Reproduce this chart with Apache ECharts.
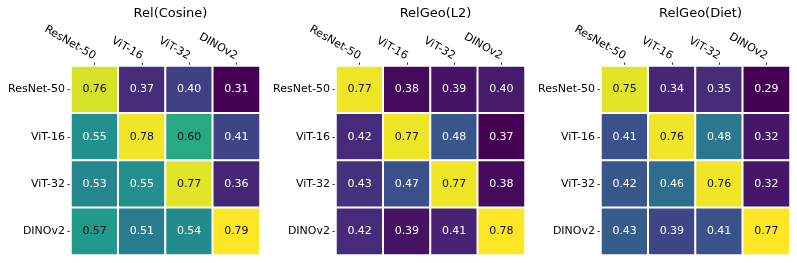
<!DOCTYPE html>
<html><head><meta charset="utf-8">
<script src="https://cdn.jsdelivr.net/npm/echarts@6/dist/echarts.min.js"></script>
<style>html,body{margin:0;padding:0;background:#fff}#c{width:797px;height:263px}</style>
</head><body><div id="c"></div>
<script>
const categories = ['ResNet-50', 'ViT-16', 'ViT-32', 'DINOv2'];
const titles = ['Rel(Cosine)', 'RelGeo(L2)', 'RelGeo(Diet)'];
const relCosine = [
  [0.76, 0.37, 0.40, 0.31],
  [0.55, 0.78, 0.60, 0.41],
  [0.53, 0.55, 0.77, 0.36],
  [0.57, 0.51, 0.54, 0.79]
];
const relGeoL2 = [
  [0.77, 0.38, 0.39, 0.40],
  [0.42, 0.77, 0.48, 0.37],
  [0.43, 0.47, 0.77, 0.38],
  [0.42, 0.39, 0.41, 0.78]
];
const relGeoDiet = [
  [0.75, 0.34, 0.35, 0.29],
  [0.41, 0.76, 0.48, 0.32],
  [0.42, 0.46, 0.76, 0.32],
  [0.43, 0.39, 0.41, 0.77]
];
const matrices = [relCosine, relGeoL2, relGeoDiet];
const viridis = ['#440154','#482878','#3e4989','#31688e','#26828e','#1f9e89','#35b779','#6ece58','#b5de2b','#fde725'];

function hexToRgb(h){return [parseInt(h.slice(1,3),16),parseInt(h.slice(3,5),16),parseInt(h.slice(5,7),16)];}
function colorAt(t){
  t=Math.max(0,Math.min(1,t));
  const p=t*(viridis.length-1), i=Math.min(Math.floor(p),viridis.length-2), f=p-i;
  const a=hexToRgb(viridis[i]), b=hexToRgb(viridis[i+1]);
  return a.map((v,k)=>v+(b[k]-v)*f);
}
function lum(rgb){
  const c=rgb.map(v=>{v/=255;return v<=0.03928?v/12.92:Math.pow((v+0.055)/1.055,2.4);});
  return 0.2126*c[0]+0.7152*c[1]+0.0722*c[2];
}

const gridLefts=[72,337,602], gridTop=67, gridSize=187;
const font='DejaVu Sans';
const option={animation:false,title:[],grid:[],xAxis:[],yAxis:[],visualMap:[],series:[]};
matrices.forEach((m,p)=>{
  const vals=m.flat(); const mn=Math.min(...vals), mx=Math.max(...vals);
  option.title.push({text:titles[p],left:gridLefts[p]+gridSize/2,top:2,textAlign:'center',
    textStyle:{fontFamily:font,fontSize:13,fontWeight:'normal',color:'#000'}});
  option.grid.push({left:gridLefts[p]-1,top:gridTop-1,width:gridSize+2,height:gridSize+2});
  option.xAxis.push({type:'category',gridIndex:p,position:'top',data:categories,
    axisLine:{show:false},axisTick:{show:true,length:3.5,lineStyle:{color:'#333'},alignWithLabel:true},
    axisLabel:{rotate:30,margin:9,fontFamily:font,fontSize:11,color:'#000'},splitLine:{show:false}});
  option.yAxis.push({type:'category',gridIndex:p,inverse:true,data:categories,
    axisLine:{show:false},axisTick:{show:true,length:3.5,lineStyle:{color:'#333'},alignWithLabel:true},
    axisLabel:{margin:6,fontFamily:font,fontSize:11,color:'#000'},splitLine:{show:false}});
  option.visualMap.push({show:false,seriesIndex:p,min:mn,max:mx,inRange:{color:viridis}});
  const data=[];
  m.forEach((row,r)=>row.forEach((v,c)=>{
    const rgb=colorAt((v-mn)/(mx-mn));
    data.push({value:[c,r,v],label:{color:lum(rgb)>0.25?'#111111':'#ffffff'}});
  }));
  option.series.push({type:'heatmap',xAxisIndex:p,yAxisIndex:p,data,
    itemStyle:{borderColor:'#fff',borderWidth:2},
    label:{show:true,fontFamily:font,fontSize:11,formatter:(d)=>d.value[2].toFixed(2)},
    emphasis:{disabled:true}});
});
const chart=echarts.init(document.getElementById('c'),null,{renderer:'canvas'});
chart.setOption(option);
</script></body></html>
